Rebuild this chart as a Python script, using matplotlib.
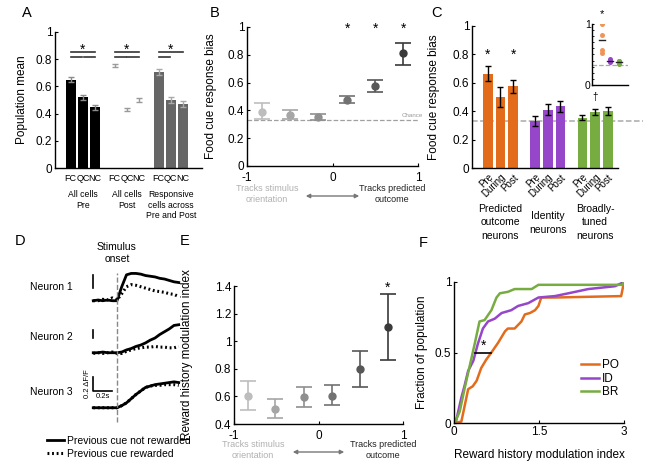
import numpy as np
import matplotlib
matplotlib.use('Agg')
import matplotlib.pyplot as plt
from matplotlib.lines import Line2D

plt.rcParams['font.family'] = ['Liberation Sans', 'DejaVu Sans']
plt.rcParams['axes.linewidth'] = 1.0

W, H = 645, 465

# ---------------- data ----------------
# A: population mean
a_groups = ['All cells\nPre', 'All cells\nPost', 'Responsive\ncells across\nPre and Post']
a_cues = ['FC', 'QC', 'NC']
a_pre = [0.65, 0.52, 0.445]
a_pre_err = [0.02, 0.02, 0.02]
a_post = [0.755, 0.43, 0.50]
a_post_err = [0.012, 0.012, 0.012]
a_resp = [0.705, 0.50, 0.47]
a_resp_err = [0.02, 0.02, 0.02]

# B: food cue response bias vs index bins
b_x = [-0.83, -0.5, -0.17, 0.17, 0.5, 0.83]
b_mean = [0.39, 0.37, 0.35, 0.475, 0.575, 0.81]
b_lo = [0.335, 0.34, 0.33, 0.45, 0.53, 0.73]
b_hi = [0.455, 0.405, 0.375, 0.505, 0.62, 0.885]
b_sig = [False, False, False, True, True, True]
chance = 0.33

# C: food cue response bias per neuron class
c_groups = ['Predicted\noutcome\nneurons', 'Identity\nneurons', 'Broadly-\ntuned\nneurons']
c_phases = ['Pre', 'During', 'Post']
c_po = [0.665, 0.50, 0.575]
c_po_err = [0.05, 0.07, 0.045]
c_id = [0.33, 0.41, 0.435]
c_id_err = [0.035, 0.04, 0.04]
c_br = [0.355, 0.395, 0.40]
c_br_err = [0.02, 0.022, 0.03]
# inset
ins_po = [1.0, 0.82, 0.58, 0.52]
ins_id = [0.42, 0.40, 0.38]
ins_br = [0.40, 0.40, 0.34]

# D: example traces (dF/F), time in s
d_t = np.round(np.arange(-0.25, 0.651, 0.05), 2)
n1_solid = [0, 0.01, 0, 0.01, 0, 0, 0.2, 0.37, 0.39, 0.39, 0.38, 0.36, 0.35, 0.34, 0.32, 0.31, 0.29, 0.27, 0.26]
n1_dot = [0, 0, 0.02, 0.01, 0.04, 0.01, 0.1, 0.2, 0.23, 0.22, 0.2, 0.18, 0.16, 0.14, 0.13, 0.12, 0.1, 0.09, 0.06]
n2_solid = [0, 0, 0.01, 0, 0, 0, 0.01, 0.04, 0.06, 0.09, 0.11, 0.14, 0.18, 0.21, 0.26, 0.3, 0.34, 0.39, 0.4]
n2_dot = [-0.01, 0, -0.01, 0, 0.01, -0.01, -0.01, 0.02, 0.04, 0.06, 0.07, 0.08, 0.08, 0.09, 0.08, 0.08, 0.07, 0.07, 0.09]
n3_solid = [0, 0, 0, 0, 0, 0, 0.03, 0.07, 0.13, 0.19, 0.24, 0.29, 0.31, 0.33, 0.34, 0.35, 0.36, 0.37, 0.36]
n3_dot = [0, 0, 0, 0, 0, 0, 0.03, 0.07, 0.13, 0.19, 0.24, 0.29, 0.31, 0.32, 0.32, 0.33, 0.33, 0.33, 0.32]
d_offsets = [0, -0.743, -1.529]

# E: reward history modulation index
e_x = [-0.84, -0.51, -0.17, 0.16, 0.49, 0.82]
e_mean = [0.60, 0.51, 0.595, 0.605, 0.80, 1.10]
e_lo = [0.50, 0.44, 0.525, 0.535, 0.665, 0.865]
e_hi = [0.71, 0.58, 0.665, 0.68, 0.93, 1.34]

# F: cumulative distributions
po_x = [0, 0.13, 0.25, 0.33, 0.40, 0.48, 0.57, 0.66, 0.78, 0.90, 0.95, 1.07, 1.19, 1.25, 1.34, 1.43, 1.49, 1.54, 1.78, 2.95, 3.0]
po_y = [0, 0.01, 0.24, 0.26, 0.30, 0.39, 0.45, 0.50, 0.57, 0.65, 0.67, 0.67, 0.72, 0.77, 0.78, 0.80, 0.83, 0.89, 0.89, 0.90, 1.0]
id_x = [0, 0.04, 0.13, 0.19, 0.25, 0.34, 0.42, 0.51, 0.60, 0.72, 0.84, 1.01, 1.13, 1.31, 1.49, 1.78, 2.02, 2.37, 2.84, 3.0]
id_y = [0, 0.02, 0.18, 0.27, 0.37, 0.44, 0.56, 0.67, 0.72, 0.74, 0.78, 0.80, 0.83, 0.85, 0.89, 0.90, 0.92, 0.95, 0.97, 1.0]
br_x = [0, 0.01, 0.10, 0.19, 0.28, 0.37, 0.45, 0.54, 0.66, 0.75, 0.81, 0.95, 1.07, 1.37, 1.49, 2.97, 3.0]
br_y = [0, 0.0, 0.08, 0.25, 0.41, 0.57, 0.72, 0.73, 0.80, 0.89, 0.92, 0.93, 0.95, 0.95, 0.98, 0.98, 1.0]

ORANGE = '#E36C1C'
PURPLE = '#9646C8'
GREEN = '#77AC41'


def box(l, t, r, b):
    return [l / W, 1 - b / H, (r - l) / W, (b - t) / H]


def fx(px):
    return px / W


def fy(py):
    return 1 - py / H


def style(ax):
    for s in ['top', 'right']:
        ax.spines[s].set_visible(False)
    ax.tick_params(direction='in', length=2.5, width=0.8, labelsize=8.5, pad=2)


fig = plt.figure(figsize=(6.45, 4.65), dpi=100)

# ---------------- A ----------------
ax = fig.add_axes(box(55, 32, 202, 168))
style(ax)
gstep = 3.6
bw = 0.82
pos1 = [0 * gstep + i for i in range(3)]
pos2 = [1 * gstep + i for i in range(3)]
pos3 = [2 * gstep + i for i in range(3)]
ax.bar(pos1, a_pre, width=bw, color='black')
ax.errorbar(pos1, a_pre, yerr=a_pre_err, fmt='none', ecolor='#8c8c8c', capsize=2, elinewidth=1)
ax.errorbar(pos2, a_post, yerr=a_post_err, fmt='none', ecolor='#999999', capsize=2, elinewidth=1)
ax.bar(pos3, a_resp, width=bw, color='#666666')
ax.errorbar(pos3, a_resp, yerr=a_resp_err, fmt='none', ecolor='#aaaaaa', capsize=2, elinewidth=1)
ax.set_xlim(-1.29, 10.76)
ax.set_ylim(0, 1)
ax.set_yticks([0, 0.2, 0.4, 0.6, 0.8, 1])
ax.set_yticklabels(['0', '0.2', '0.4', '0.6', '0.8', '1'])
ax.set_xticks(pos1 + pos2 + pos3)
ax.set_xticklabels(a_cues * 3, fontsize=6.5)
ax.tick_params(axis='x', length=0, pad=4)
ax.set_ylabel('Population mean', fontsize=8.5)
ax.yaxis.set_label_coords(-0.184, 0.5)
for g, full in zip([0, 1, 2], [True, True, False]):
    x0 = g * gstep
    ax.plot([x0, x0 + 2], [0.853, 0.853], color='#333333', lw=1.2)
    ax.plot([x0, x0 + 0.95], [0.818, 0.818], color='#333333', lw=1.2)
    if full:
        ax.plot([x0 + 1.05, x0 + 2], [0.818, 0.818], color='#333333', lw=1.2)
    ax.text(x0 + 1, 0.87, '*', ha='center', va='center', fontsize=10)
for g, lab in enumerate(a_groups):
    ax.text(g * gstep + 1, -0.16, lab, ha='center', va='top', fontsize=6.2, linespacing=1.25)

# ---------------- B ----------------
ax = fig.add_axes(box(247, 27, 418, 166))
style(ax)
b_cols = ['#bdbdbd', '#a6a6a6', '#8f8f8f', '#727272', '#575757', '#3a3a3a']
ax.axhline(chance, color='#a0a0a0', ls='--', lw=0.9)
for x, m, lo, hi, c, s in zip(b_x, b_mean, b_lo, b_hi, b_cols, b_sig):
    ax.errorbar([x], [m], yerr=[[m - lo], [hi - m]], fmt='o', color=c, ms=5,
                capsize=6, elinewidth=1.2, capthick=1.2)
    if s:
        ax.text(x, 0.985, '*', ha='center', va='center', fontsize=10)
ax.text(0.93, 0.36, 'Chance', ha='center', va='center', fontsize=4.5, color='#999999')
ax.set_xlim(-1, 1)
ax.set_ylim(0, 1)
ax.set_xticks([-1, 0, 1])
ax.set_xticklabels(['-1', '0', '1'])
ax.tick_params(axis='x', pad=4)
ax.set_yticks([0, 0.2, 0.4, 0.6, 0.8, 1])
ax.set_yticklabels(['0', '0.2', '0.4', '0.6', '0.8', '1'])
ax.set_ylabel('Food cue response bias', fontsize=8.5)
ax.yaxis.set_label_coords(-0.175, 0.5)
fig.text(fx(267), fy(194), 'Tracks stimulus\norientation', ha='center', va='center',
         fontsize=6.5, color='#b0b0b0', linespacing=1.2)
fig.text(fx(392), fy(194), 'Tracks predicted\noutcome', ha='center', va='center',
         fontsize=6.5, color='#222222', linespacing=1.2)
fig.add_artist(matplotlib.patches.FancyArrowPatch((fx(303), fy(196)), (fx(362), fy(196)),
               transform=fig.transFigure, arrowstyle='<|-|>', mutation_scale=6,
               color='#777777', lw=1))

# ---------------- C ----------------
ax = fig.add_axes(box(472, 26, 618, 168))
style(ax)
cstep = 3.73
cbw = 0.75
for g, (vals, errs, col) in enumerate([(c_po, c_po_err, ORANGE), (c_id, c_id_err, PURPLE),
                                       (c_br, c_br_err, GREEN)]):
    p = [g * cstep + i for i in range(3)]
    ax.bar(p, vals, width=cbw, color=col)
    ax.errorbar(p, vals, yerr=errs, fmt='none', ecolor='black', capsize=2.5, elinewidth=1)
ax.axhline(chance, xmax=1.17, color='#aaaaaa', ls='--', lw=1.1, clip_on=False, zorder=0.5)
ax.text(0, 0.795, '*', ha='center', va='center', fontsize=10)
ax.text(2, 0.795, '*', ha='center', va='center', fontsize=10)
ax.text(2 * cstep + 1, 0.50, '†', ha='center', va='center', fontsize=7)
ax.set_xlim(-1.24, 10.26)
ax.set_ylim(0, 1)
ax.set_yticks([0, 0.2, 0.4, 0.6, 0.8, 1])
ax.set_yticklabels(['0', '0.2', '0.4', '0.6', '0.8', '1'])
cpos = [g * cstep + i for g in range(3) for i in range(3)]
ax.set_xticks(cpos)
ax.set_xticklabels(c_phases * 3, rotation=45, ha='right', rotation_mode='anchor', fontsize=7)
ax.tick_params(axis='x', length=0, pad=3)
ax.set_ylabel('Food cue response bias', fontsize=8.5)
ax.yaxis.set_label_coords(-0.22, 0.5)
for g, lab, off in zip(range(3), c_groups, [0, 0.05, 0]):
    ax.text(g * cstep + 1, -0.255 - off, lab, ha='center', va='top', fontsize=7.5, linespacing=1.4)

# inset
ax = fig.add_axes(box(592, 24, 628, 85))
style(ax)
ax.tick_params(length=1.5, labelsize=7.5, pad=1)
ax.axhline(chance, color='#aaaaaa', ls='--', lw=0.9)
ax.plot([1] * len(ins_po), ins_po, 'o', color='#F0955A', ms=3.6, mew=0)
ax.plot([2] * len(ins_id), ins_id, 'o', color=PURPLE, ms=3.6, mew=0)
ax.plot([3] * len(ins_br), ins_br, 'o', color=GREEN, ms=3.6, mew=0)
for x, v in zip([1, 2, 3], [ins_po, ins_id, ins_br]):
    ax.plot([x - 0.35, x + 0.35], [np.mean(v)] * 2, color='#222222', lw=1)
ax.text(1, 1.17, '*', ha='center', va='center', fontsize=8, clip_on=False)
ax.set_xlim(-0.18, 4.1)
ax.set_ylim(0, 1)
ax.set_xticks([])
ax.set_yticks([0, 1])
ax.set_yticklabels(['0', '1'])
ax.set_yticks(np.arange(0.1, 1.0, 0.1), minor=True)
ax.tick_params(which='minor', direction='in', length=1.2, width=0.6)

# ---------------- D ----------------
ax = fig.add_axes(box(0, 235, 200, 465))
ax.axis('off')
ax.set_xlim(-1.232, 0.874)
ax.set_ylim(-2.347, 0.939)
for solid, dot, off in zip([n1_solid, n2_solid, n3_solid], [n1_dot, n2_dot, n3_dot], d_offsets):
    ax.plot(d_t, np.array(dot) + off, color='black', lw=2.2, ls=(0, (0.6, 0.9)))
    ax.plot(d_t, np.array(solid) + off, color='black', lw=2.0)
ax.plot([0, 0], [-1.73, 0.39], color='#888888', ls='--', lw=1)
ax.text(0, 0.68, 'Stimulus\nonset', ha='center', va='center', fontsize=7.5, linespacing=1.3)
for i, off in enumerate(d_offsets):
    ax.text(-0.47, off + [0.2, 0.23, 0.23][i], 'Neuron %d' % (i + 1), ha='right', va='center', fontsize=7.5)
# scale bars
ax.plot([-0.253, -0.253], [0.18, 0.37], color='black', lw=1.2)
ax.plot([-0.253, -0.253], [-0.53, -0.42], color='black', lw=1.2)
ax.plot([-0.253, -0.253, -0.053], [-1.09, -1.29, -1.29], color='black', lw=1.2)
ax.text(-0.31, -1.19, '0.2 ΔF/F', rotation=90, ha='center', va='center', fontsize=5.5)
ax.text(-0.153, -1.375, '0.2s', ha='center', va='center', fontsize=5.5)
hd = [Line2D([], [], color='black', lw=2.0),
      Line2D([], [], color='black', lw=2.2, ls=(0, (0.6, 0.9)))]
ax.legend(hd, ['Previous cue not rewarded', 'Previous cue rewarded'], loc='lower left',
          bbox_to_anchor=(0.2, -0.005), frameon=False, fontsize=7.5, handlelength=1.6,
          handletextpad=0.3, labelspacing=0.3, borderpad=0.2)

# ---------------- E ----------------
ax = fig.add_axes(box(234, 286, 403, 424))
style(ax)
for x, m, lo, hi, c in zip(e_x, e_mean, e_lo, e_hi, b_cols):
    ax.errorbar([x], [m], yerr=[[m - lo], [hi - m]], fmt='o', color=c, ms=5,
                capsize=6, elinewidth=1.2, capthick=1.2)
ax.text(e_x[-1], 1.385, '*', ha='center', va='center', fontsize=10)
ax.set_xlim(-1, 1)
ax.set_ylim(0.4, 1.4)
ax.set_xticks([-1, 0, 1])
ax.set_xticklabels(['-1', '0', '1'])
ax.tick_params(axis='x', pad=4)
ax.set_yticks([0.4, 0.6, 0.8, 1.0, 1.2, 1.4])
ax.set_yticklabels(['0.4', '0.6', '0.8', '1', '1.2', '1.4'])
ax.set_ylabel('Reward history modulation index', fontsize=8.5)
ax.yaxis.set_label_coords(-0.24, 0.5)
fig.text(fx(253), fy(450), 'Tracks stimulus\norientation', ha='center', va='center',
         fontsize=6.5, color='#b0b0b0', linespacing=1.2)
fig.text(fx(383), fy(450), 'Tracks predicted\noutcome', ha='center', va='center',
         fontsize=6.5, color='#222222', linespacing=1.2)
fig.add_artist(matplotlib.patches.FancyArrowPatch((fx(290), fy(452)), (fx(347), fy(452)),
               transform=fig.transFigure, arrowstyle='<|-|>', mutation_scale=6,
               color='#777777', lw=1))

# ---------------- F ----------------
ax = fig.add_axes(box(454, 282, 624, 423))
style(ax)
ax.plot(po_x, po_y, color=ORANGE, lw=1.8, label='PO')
ax.plot(id_x, id_y, color=PURPLE, lw=1.8, label='ID')
ax.plot(br_x, br_y, color=GREEN, lw=1.8, label='BR')
ax.plot([0.37, 0.65], [0.5, 0.5], color='black', lw=1.2)
ax.text(0.52, 0.55, '*', ha='center', va='center', fontsize=10)
ax.set_xlim(0, 3)
ax.set_ylim(0, 1)
ax.set_xticks([0, 1.5, 3])
ax.set_xticklabels(['0', '1.5', '3'])
ax.set_yticks([0, 0.5, 1])
ax.set_yticklabels(['0', '0.5', '1'])
ax.set_xlabel('Reward history modulation index', fontsize=8.5, labelpad=8)
ax.set_ylabel('Fraction of population', fontsize=8.5)
ax.yaxis.set_label_coords(-0.153, 0.5)
ax.legend(loc='lower right', bbox_to_anchor=(1.02, 0.12), frameon=False, fontsize=8.5,
          handlelength=1.5, handletextpad=0.3, labelspacing=0.1, borderpad=0.2)

# panel letters
for lab, x, y in [('A', 27, 13), ('B', 215, 13), ('C', 436, 13), ('D', 20, 241),
                  ('E', 185, 241), ('F', 423, 243)]:
    fig.text(fx(x), fy(y), lab, ha='center', va='center', fontsize=10.5)

fig.savefig('out.png', dpi=100)
